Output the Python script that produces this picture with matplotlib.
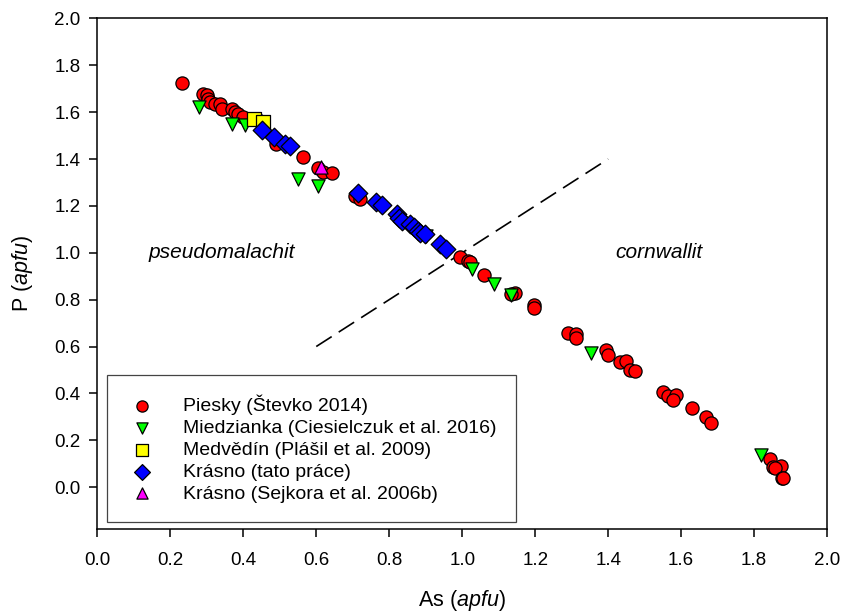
import numpy as np
import matplotlib
matplotlib.use("Agg")
import matplotlib.pyplot as plt

plt.rcParams['font.family'] = ['Liberation Sans', 'DejaVu Sans']
plt.rcParams['mathtext.fontset'] = 'custom'
plt.rcParams['mathtext.rm'] = 'Liberation Sans'
plt.rcParams['mathtext.it'] = 'Liberation Sans:italic'

# Piesky (Stevko 2014)
piesky_as = [0.231, 0.29, 0.30, 0.304, 0.309, 0.322, 0.336, 0.341, 0.368, 0.377,
             0.386, 0.40, 0.44, 0.491, 0.564, 0.605, 0.619, 0.642, 0.706, 0.72,
             0.994, 1.017, 1.021, 1.06, 1.144, 1.135, 1.197, 1.197, 1.29, 1.313,
             1.313, 1.393, 1.40, 1.432, 1.45, 1.459, 1.473, 1.551, 1.564, 1.587,
             1.578, 1.631, 1.668, 1.683, 1.843, 1.852, 1.873, 1.857, 1.875, 1.879]
piesky_p = [1.726, 1.676, 1.671, 1.657, 1.643, 1.636, 1.636, 1.614, 1.614, 1.60,
            1.593, 1.579, 1.565, 1.465, 1.41, 1.36, 1.343, 1.339, 1.243, 1.229,
            0.982, 0.965, 0.96, 0.905, 0.829, 0.822, 0.775, 0.765, 0.658, 0.654,
            0.636, 0.587, 0.562, 0.534, 0.537, 0.501, 0.494, 0.404, 0.387, 0.394,
            0.373, 0.337, 0.301, 0.272, 0.12, 0.087, 0.09, 0.083, 0.037, 0.037]

# Miedzianka (Ciesielczuk et al. 2016)
miedz_as = [0.279, 0.368, 0.405, 0.549, 0.605, 0.90, 1.026, 1.087, 1.135, 1.354, 1.82]
miedz_p = [1.624, 1.55, 1.543, 1.315, 1.286, 1.07, 0.929, 0.868, 0.819, 0.572, 0.137]

# Medvedin (Plasil et al. 2009)
medv_as = [0.429, 0.455]
medv_p = [1.572, 1.557]

# Krasno (tato prace)
krasno_as = [0.45, 0.484, 0.514, 0.528, 0.715, 0.765, 0.779, 0.82, 0.828, 0.834,
             0.857, 0.868, 0.879, 0.885, 0.898, 0.939, 0.955]
krasno_p = [1.525, 1.496, 1.465, 1.457, 1.257, 1.215, 1.205, 1.165, 1.15, 1.136,
            1.122, 1.11, 1.093, 1.085, 1.079, 1.036, 1.015]

# Krasno (Sejkora et al. 2006b)
sejk_as = [0.613]
sejk_p = [1.367]

# boundary line
bound_as = [0.6, 1.4]
bound_p = [0.6, 1.4]

fig = plt.figure(figsize=(8.44, 6.13), dpi=100)
ax = fig.add_axes([0.1153, 0.1365, 0.98 - 0.1153, 0.970 - 0.1365])

ax.plot(bound_as, bound_p, color='black', lw=1.2, dashes=(11, 5), zorder=1)

ms = 90
ax.scatter(piesky_as, piesky_p, s=ms, marker='o', c='#ff0000', edgecolors='black',
           linewidths=0.9, label='Piesky (Števko 2014)', zorder=2)
ax.scatter(miedz_as, miedz_p, s=ms, marker='v', c='#00ff00', edgecolors='black',
           linewidths=0.9, label='Miedzianka (Ciesielczuk et al. 2016)', zorder=3)
ax.scatter(medv_as, medv_p, s=ms, marker='s', c='#ffff00', edgecolors='black',
           linewidths=0.9, label='Medvědín (Plášil et al. 2009)', zorder=4)
ax.scatter(krasno_as, krasno_p, s=ms, marker='D', c='#0000ff', edgecolors='black',
           linewidths=0.9, label='Krásno (tato práce)', zorder=5)
ax.scatter(sejk_as, sejk_p, s=ms, marker='^', c='#ff00ff', edgecolors='black',
           linewidths=0.9, label='Krásno (Sejkora et al. 2006b)', zorder=6)

ax.text(0.34, 1.0, 'pseudomalachit', style='italic', fontsize=15, ha='center', va='center')
ax.text(1.54, 1.0, 'cornwallit', style='italic', fontsize=15, ha='center', va='center')

ax.set_xlim(0, 2.0)
ax.set_ylim(-0.18, 2.0)
ax.set_xticks(np.arange(0, 2.01, 0.2))
ax.set_yticks(np.arange(0, 2.01, 0.2))
ax.set_xticklabels(['%.1f' % v for v in np.arange(0, 2.01, 0.2)])
ax.set_yticklabels(['%.1f' % v for v in np.arange(0, 2.01, 0.2)])
ax.tick_params(direction='out', length=6, width=1.1, labelsize=13.5)
ax.tick_params(axis='x', pad=10)
ax.tick_params(axis='y', pad=6)
for sp in ax.spines.values():
    sp.set_linewidth(1.1)

ax.set_xlabel(r'As ($\it{apfu}$)', fontsize=15.5, labelpad=14)
ax.set_ylabel(r'P ($\it{apfu}$)', fontsize=15.5, labelpad=14)

leg = ax.legend(loc='lower left', bbox_to_anchor=(0.0133, 0.0143, 0.561, 0.3),
                mode='expand', fontsize=14, markerscale=0.85, fancybox=False,
                edgecolor='#444444', framealpha=1, borderpad=1.0, labelspacing=0.22,
                handletextpad=1.3, borderaxespad=0, handlelength=1.6)
leg.get_frame().set_linewidth(0.9)

fig.savefig('out.png', dpi=100)
